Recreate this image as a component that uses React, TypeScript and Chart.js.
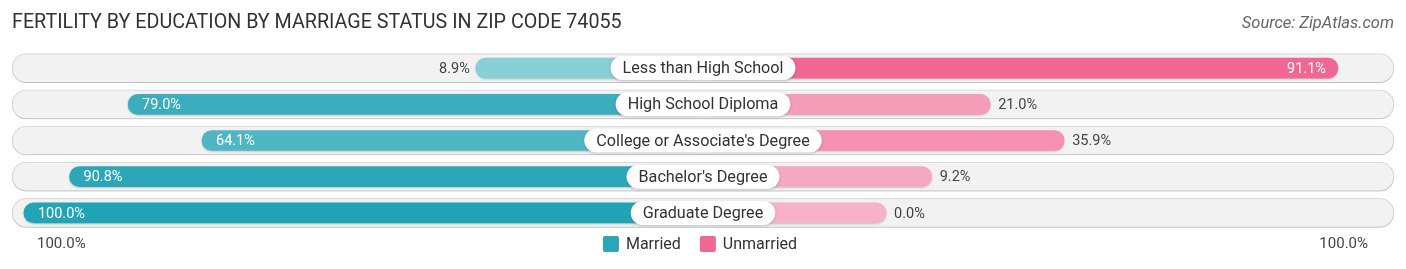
import React, { useEffect, useRef } from "react";
import { Chart, registerables } from "chart.js";

Chart.register(...registerables);

const categories = [
  "Less than High School",
  "High School Diploma",
  "College or Associate's Degree",
  "Bachelor's Degree",
  "Graduate Degree",
];
const married = [8.9, 79.0, 64.1, 90.8, 100.0];
const unmarried = [91.1, 21.0, 35.9, 9.2, 0.0];
const marriedColors = ["#88cfd8", "#3badbd", "#51b6c4", "#2ba7b8", "#23a4b6"];
const unmarriedColors = ["#f06792", "#f59cb9", "#f490b1", "#f6a7c1", "#f7b1c8"];
const legendLabels = ["Married", "Unmarried"];
const legendColors = ["#2aa6b7", "#f06792"];
const axisLabels = ["100.0%", "100.0%"];
const title = "FERTILITY BY EDUCATION BY MARRIAGE STATUS IN ZIP CODE 74055";
const source = "Source: ZipAtlas.com";

// layout constants (in value units of the x scale)
const OFFSET = 36.9; // space reserved for the centre label
const SPAN = 139.3;
const FONT = "Roboto, 'Open Sans', sans-serif";

function roundRect(ctx: CanvasRenderingContext2D, x: number, y: number, w: number, h: number, r: number) {
  ctx.beginPath();
  ctx.moveTo(x + r, y);
  ctx.lineTo(x + w - r, y);
  ctx.arc(x + w - r, y + r, r, -Math.PI / 2, 0);
  ctx.lineTo(x + w, y + h - r);
  ctx.arc(x + w - r, y + h - r, r, 0, Math.PI / 2);
  ctx.lineTo(x + r, y + h);
  ctx.arc(x + r, y + h - r, r, Math.PI / 2, Math.PI);
  ctx.lineTo(x, y + r);
  ctx.arc(x + r, y + r, r, Math.PI, Math.PI * 1.5);
  ctx.closePath();
}

const shadowPlugin = {
  id: "barShadow",
  beforeDatasetDraw(chart: any, args: any) {
    const ctx = chart.ctx;
    ctx.save();
    if (args.index === 2) {
      ctx.shadowColor = "rgba(0,0,0,0.14)";
      ctx.shadowBlur = 2;
      ctx.shadowOffsetY = 1;
    } else {
      ctx.shadowColor = "rgba(0,0,0,0.18)";
      ctx.shadowBlur = 2;
      ctx.shadowOffsetY = 1;
    }
  },
  afterDatasetDraw(chart: any) {
    chart.ctx.restore();
  },
};

const labelPlugin = {
  id: "labels",
  afterDraw(chart: any) {
    const ctx: CanvasRenderingContext2D = chart.ctx;
    const xs = chart.scales.x;
    const ys = chart.scales.y;
    const cx = xs.getPixelForValue(0);
    ctx.save();

    // title & source
    ctx.textBaseline = "middle";
    ctx.fillStyle = "#333333";
    ctx.font = `400 19.7px ${FONT}`;
    ctx.textAlign = "left";
    ctx.fillText(title, 12, 23);
    ctx.fillStyle = "#666666";
    ctx.font = `italic 400 16.5px ${FONT}`;
    ctx.textAlign = "right";
    ctx.fillText(source, 1394, 24);

    categories.forEach((cat, i) => {
      const y = ys.getPixelForValue(i);
      // married value label
      const mv = married[i];
      const mEnd = xs.getPixelForValue(-(OFFSET + mv));
      ctx.font = `400 14.5px ${FONT}`;
      const mText = mv.toFixed(1) + "%";
      if (mv > 50) {
        ctx.fillStyle = "#ffffff";
        ctx.textAlign = "left";
        ctx.fillText(mText, mEnd + 14, y + 1);
      } else {
        ctx.fillStyle = "#444444";
        ctx.textAlign = "right";
        ctx.fillText(mText, mEnd - 6, y + 1);
      }
      // unmarried value label
      const uv = unmarried[i];
      const uEnd = xs.getPixelForValue(OFFSET + uv);
      const uText = uv.toFixed(1) + "%";
      if (uv > 50) {
        ctx.fillStyle = "#ffffff";
        ctx.textAlign = "right";
        ctx.fillText(uText, uEnd - 12, y + 1);
      } else {
        ctx.fillStyle = "#444444";
        ctx.textAlign = "left";
        ctx.fillText(uText, uEnd + 8, y + 1);
      }

      // centre label box
      ctx.font = `400 16.2px ${FONT}`;
      const tw = ctx.measureText(cat).width;
      const bw = tw + 24;
      const bh = 24;
      ctx.save();
      ctx.shadowColor = "rgba(0,0,0,0.18)";
      ctx.shadowBlur = 3;
      ctx.shadowOffsetY = 1;
      ctx.fillStyle = "#ffffff";
      roundRect(ctx, cx - bw / 2, y - bh / 2, bw, bh, bh / 2);
      ctx.fill();
      ctx.restore();
      ctx.fillStyle = "#333333";
      ctx.textAlign = "center";
      ctx.fillText(cat, cx, y + 1);
    });

    // bottom axis labels
    const by = 244;
    ctx.font = `400 15px ${FONT}`;
    ctx.fillStyle = "#444444";
    ctx.textAlign = "left";
    ctx.fillText(axisLabels[0], 37, by);
    ctx.textAlign = "right";
    ctx.fillText(axisLabels[1], 1368, by);

    // legend
    ctx.font = `400 16px ${FONT}`;
    const sq = 16;
    const gapText = 7;
    const gapItems = 19;
    const widths = legendLabels.map((l) => ctx.measureText(l).width);
    const total = widths.reduce((a, w) => a + sq + gapText + w, 0) + gapItems;
    let lx = cx - 3 - total / 2;
    legendLabels.forEach((l, i) => {
      ctx.fillStyle = legendColors[i];
      roundRect(ctx, lx, by - sq / 2, sq, sq, 2);
      ctx.fill();
      ctx.fillStyle = "#333333";
      ctx.textAlign = "left";
      ctx.fillText(l, lx + sq + gapText, by + 1);
      lx += sq + gapText + widths[i] + gapItems;
    });

    ctx.restore();
  },
};

export default function App() {
  const ref = useRef<HTMLCanvasElement>(null);
  useEffect(() => {
    document.body.style.margin = "0";
    const chart = new Chart(ref.current as HTMLCanvasElement, {
      type: "bar",
      data: {
        labels: categories,
        datasets: [
          {
            label: legendLabels[0],
            data: married.map((v) => [-(OFFSET + v), 0]) as any,
            backgroundColor: marriedColors,
            borderWidth: 0,
            borderRadius: 10,
            borderSkipped: false,
            barThickness: 20,
            grouped: false,
            order: 1,
          },
          {
            label: legendLabels[1],
            data: unmarried.map((v) => [0, OFFSET + v]) as any,
            backgroundColor: unmarriedColors,
            borderWidth: 0,
            borderRadius: 10,
            borderSkipped: false,
            barThickness: 20,
            grouped: false,
            order: 1,
          },
          {
            label: "bg",
            data: categories.map(() => [-SPAN, SPAN]) as any,
            backgroundColor: "#f2f2f2",
            borderColor: "#d8d8d8",
            borderWidth: 1,
            borderRadius: 14.5,
            borderSkipped: false,
            barThickness: 29,
            grouped: false,
            order: 5,
          },
        ],
      },
      options: {
        indexAxis: "y",
        responsive: false,
        animation: false,
        events: [],
        layout: { padding: { left: 12, right: 12, top: 50, bottom: 38 } },
        scales: {
          x: { display: false, min: -SPAN, max: SPAN },
          y: { display: false, offset: true },
        },
        plugins: {
          legend: { display: false },
          tooltip: { enabled: false },
          title: { display: false },
        },
      },
      plugins: [shadowPlugin, labelPlugin],
    } as any);
    return () => chart.destroy();
  }, []);
  return (
    <div style={{ width: 1406, height: 269 }}>
      <canvas ref={ref} width={1406} height={269} style={{ display: "block", width: 1406, height: 269 }} />
    </div>
  );
}
